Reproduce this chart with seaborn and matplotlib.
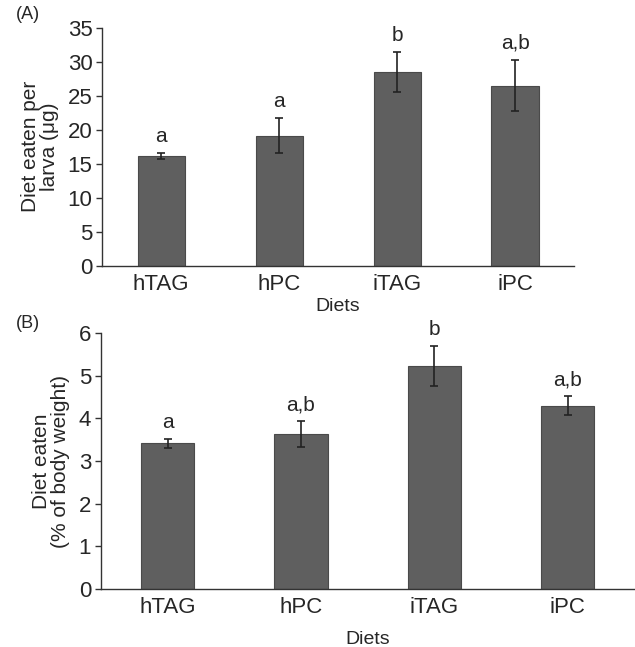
import matplotlib
matplotlib.use("Agg")
import matplotlib.pyplot as plt
import seaborn as sns
import numpy as np
import pandas as pd

diets = ["hTAG", "hPC", "iTAG", "iPC"]
eaten_per_larva = [16.15, 19.15, 28.5, 26.5]
eaten_per_larva_err = [0.5, 2.6, 2.95, 3.8]
letters_a = ["a", "a", "b", "a,b"]
eaten_pct_bw = [3.42, 3.63, 5.23, 4.30]
eaten_pct_bw_err = [0.11, 0.31, 0.47, 0.22]
letters_b = ["a", "a,b", "b", "a,b"]

sns.set_theme(style="white")
plt.rcParams["font.family"] = ["Liberation Sans", "DejaVu Sans"]

fig = plt.figure(figsize=(6.35, 6.47), dpi=100)
axA = fig.add_axes([0.161, 0.589, 0.743, 0.368])
axB = fig.add_axes([0.159, 0.0896, 0.84, 0.3954])

bar_color = "#5f5f5f"
def panel(ax, vals, errs, letters, ylim, yticks, ylabel, tag, tagy):
    df = pd.DataFrame({"Diet": diets, "val": vals})
    sns.barplot(data=df, x="Diet", y="val", order=diets, color=bar_color,
                saturation=1, width=0.4, errorbar=None, edgecolor="#4a4a4a",
                linewidth=0.8, ax=ax)
    xs = np.arange(len(diets))
    ax.errorbar(xs, vals, yerr=errs, fmt="none", ecolor="#222222",
                elinewidth=1.2, capsize=3, capthick=1.2)
    for x, v, e, t in zip(xs, vals, errs, letters):
        ax.annotate(t, (x, v + e), xytext=(0, 5), textcoords="offset points",
                    ha="center", va="bottom", fontsize=15)
    ax.set_xlim(-0.5, 3.5)
    ax.set_ylim(*ylim)
    ax.set_yticks(yticks)
    ax.set_ylabel(ylabel, fontsize=15, labelpad=6, linespacing=1.0)
    ax.set_xlabel("Diets", fontsize=14)
    ax.tick_params(axis="y", labelsize=16, length=4, width=1, direction="out",
                   left=True, pad=3, color="#333333")
    ax.tick_params(axis="x", labelsize=16, length=0, pad=6)
    sns.despine(ax=ax)
    for s in ["left", "bottom"]:
        ax.spines[s].set_color("#333333")
        ax.spines[s].set_linewidth(1.0)
    fig.text(0.025, tagy, tag, fontsize=13, va="center", ha="left")

panel(axA, eaten_per_larva, eaten_per_larva_err, letters_a, (0, 35),
      range(0, 36, 5), "Diet eaten per\nlarva (\u03bcg)", "(A)", 0.977)
axA.xaxis.labelpad = 2
panel(axB, eaten_pct_bw, eaten_pct_bw_err, letters_b, (0, 6),
      range(0, 7), "Diet eaten\n(% of body weight)", "(B)", 0.5)
axB.xaxis.labelpad = 9

fig.savefig("out.png", dpi=100)
